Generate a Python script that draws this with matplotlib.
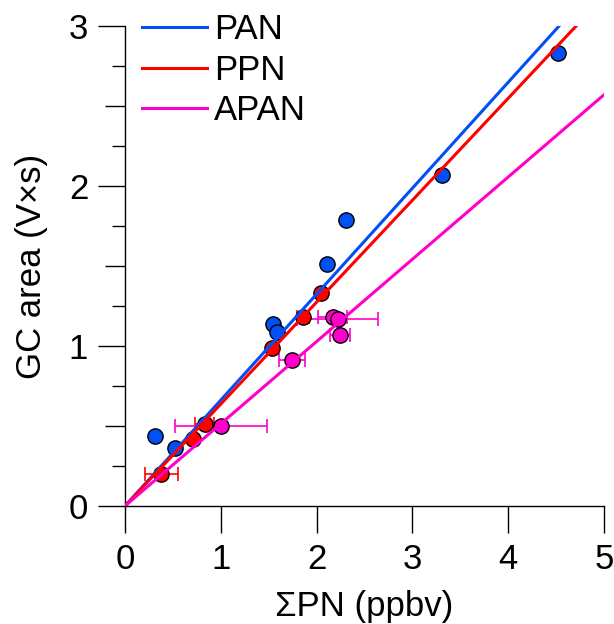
import numpy as np
import matplotlib
matplotlib.use("Agg")
import matplotlib.pyplot as plt
from matplotlib.ticker import MultipleLocator

plt.rcParams['font.family'] = ['Liberation Sans', 'DejaVu Sans']

# data
pan_x = [0.31, 0.52, 1.54, 1.59, 2.11, 2.31, 3.31, 4.52]
pan_y = [0.44, 0.36, 1.14, 1.09, 1.51, 1.79, 2.07, 2.83]

ppn_x = [0.38, 0.71, 0.83, 1.53, 1.86, 2.05]
ppn_y = [0.20, 0.42, 0.51, 0.99, 1.18, 1.33]
ppn_xerr = [0.17, 0.0, 0.10, 0.0, 0.06, 0.0]

apan_x = [1.00, 1.74, 2.17, 2.22, 2.24]
apan_y = [0.50, 0.91, 1.18, 1.17, 1.07]
apan_xerr = [0.48, 0.135, 0.15, 0.42, 0.105]

# fitted slopes (lines through origin)
slopes = {'PAN': 0.662, 'PPN': 0.637, 'APAN': 0.514}

c_pan = '#0050F5'
c_ppn = '#FF0000'
c_apan = '#FF00CC'

fs = 25

fig = plt.figure(figsize=(6.14, 6.24), dpi=100)
ax = fig.add_axes([0.2036, 0.1891, 0.78, 0.7692])

mk = dict(marker='o', ms=11, mec='black', mew=1.0, ls='none', zorder=2)
eb = dict(elinewidth=1.2, capsize=4.8, capthick=1.2, zorder=1.5)

ax.plot(pan_x, pan_y, color=c_pan, **mk)
ax.errorbar(ppn_x, ppn_y, xerr=ppn_xerr, fmt='none', ecolor=c_ppn, **eb)
ax.plot(ppn_x, ppn_y, color=c_ppn, **mk)
ax.errorbar(apan_x, apan_y, xerr=apan_xerr, fmt='none', ecolor=c_apan, **eb)
ax.plot(apan_x, apan_y, color=c_apan, **mk)

xfit = np.array([0, 5])
ax.plot(xfit, slopes['PAN'] * xfit, color=c_pan, lw=2.2, zorder=3, label='PAN')
ax.plot(xfit, slopes['PPN'] * xfit, color=c_ppn, lw=2.2, zorder=3, label='PPN')
ax.plot(xfit, slopes['APAN'] * xfit, color=c_apan, lw=2.2, zorder=3, label='APAN')

ax.set_xlim(0, 5)
ax.set_ylim(0, 3)
ax.spines['top'].set_visible(False)
ax.spines['right'].set_visible(False)
for s in ('left', 'bottom'):
    ax.spines[s].set_linewidth(1.0)

ax.xaxis.set_major_locator(MultipleLocator(1))
ax.yaxis.set_major_locator(MultipleLocator(1))
ax.yaxis.set_minor_locator(MultipleLocator(0.5))
ax.tick_params(axis='both', which='major', direction='out', length=19.5, width=1.0,
               labelsize=fs, pad=7)
ax.tick_params(axis='y', which='minor', direction='out', length=14.5, width=1.0)

# shortest ticks at the quarter marks
sec = ax.secondary_yaxis('left')
sec.set_yticks([0.25, 0.75, 1.25, 1.75, 2.25, 2.75])
sec.set_yticklabels([])
sec.tick_params(direction='out', length=9.5, width=1.0)
sec.spines['left'].set_visible(False)

ax.set_xlabel('ΣPN (ppbv)', fontsize=fs, labelpad=10)
ax.set_ylabel('GC area (V×s)', fontsize=fs, labelpad=15)

ax.legend(loc='upper left', bbox_to_anchor=(0.0355, 1.027), frameon=False,
          fontsize=fs, handlelength=1.87, handletextpad=0.2, labelspacing=0.22,
          borderpad=0, borderaxespad=0)

fig.savefig('out.png', dpi=100)
